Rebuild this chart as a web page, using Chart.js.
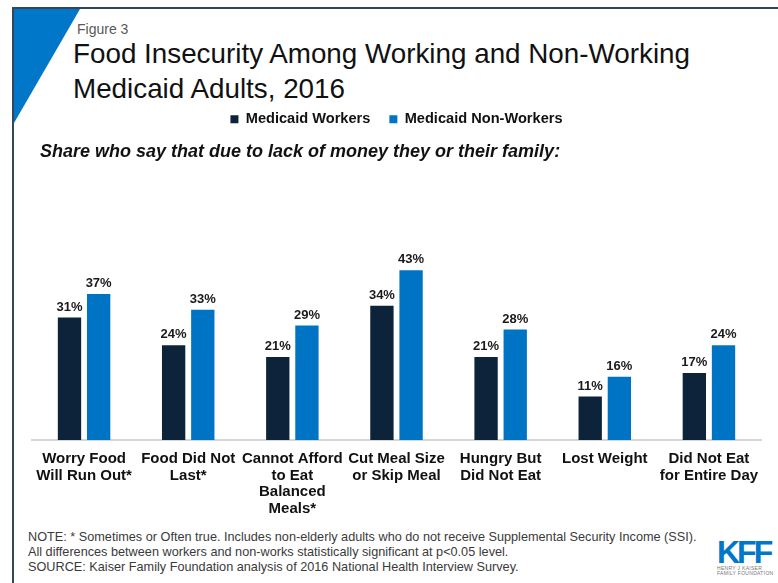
<!DOCTYPE html>
<html>
<head>
<meta charset="utf-8">
<script src="https://cdn.jsdelivr.net/npm/chart.js@4"></script>
<style>
  html, body { margin: 0; padding: 0; background: #fff; }
  body { width: 778px; height: 583px; position: relative; overflow: hidden; font-family: "Liberation Sans", Arial, sans-serif; }
  .frame-top { position: absolute; left: 12px; top: 7px; width: 766px; height: 2px; background: #33475b; }
  .frame-left { position: absolute; left: 12px; top: 7px; width: 2px; height: 576px; background: #33475b; }
  .corner { position: absolute; left: 14px; top: 9px; width: 66px; height: 114px; background: #0077c8; clip-path: polygon(0 0, 100% 0, 0 100%); }
  .fig { position: absolute; left: 77px; top: 21px; font-size: 14px; color: #595959; }
  .title { position: absolute; left: 73px; top: 36px; font-size: 27.8px; line-height: 35px; color: #111; }
  .sub { position: absolute; left: 40px; top: 141px; font-size: 18px; font-weight: bold; font-style: italic; color: #111; }
  .notes { position: absolute; left: 28px; top: 530px; font-size: 12.7px; line-height: 15px; color: #3a3a3a; white-space: nowrap; }
  .logo { position: absolute; left: 717px; top: 538px; width: 60px; }
  .logo .kff { font-size: 32px; font-weight: bold; color: #0077c8; letter-spacing: -3px; line-height: 28px; }
  .logo .small { font-size: 5px; line-height: 5px; color: #777; letter-spacing: 0.3px; white-space: nowrap; }
  #wrap { position: absolute; left: 12px; top: 93px; width: 766px; height: 427px; }
</style>
</head>
<body>
<div class="frame-top"></div>
<div class="frame-left"></div>
<div class="corner"></div>
<div class="fig">Figure 3</div>
<div class="title">Food Insecurity Among Working and Non-Working<br>Medicaid Adults, 2016</div>
<div id="wrap"><canvas id="food"></canvas></div>
<div class="sub">Share who say that due to lack of money they or their family:</div>
<div class="notes">NOTE: * Sometimes or Often true. Includes non-elderly adults who do not receive Supplemental Security Income (SSI).<br>All differences between workers and non-works statistically significant at p&lt;0.05 level.<br>SOURCE: Kaiser Family Foundation analysis of 2016 National Health Interview Survey.</div>
<div class="logo"><div class="kff">KFF</div><div class="small">HENRY J KAISER<br>FAMILY FOUNDATION</div></div>

<script>
// categories (multi-line tick labels)
var categories = [
    ['Worry Food', 'Will Run Out*'],
    ['Food Did Not', 'Last*'],
    ['Cannot Afford', 'to Eat', 'Balanced', 'Meals*'],
    ['Cut Meal Size', 'or Skip Meal'],
    ['Hungry But', 'Did Not Eat'],
    ['Lost Weight'],
    ['Did Not Eat', 'for Entire Day']
];

// percent of adults
var workers = [31, 24, 21, 34, 21, 11, 17];
var nonWorkers = [37, 33, 29, 43, 28, 16, 24];

var font = '"Liberation Sans", Arial, sans-serif';

// value labels above each bar
var barLabels = {
    id: 'barLabels',
    afterDatasetsDraw: function(chart) {
        var ctx = chart.ctx;
        ctx.save();
        ctx.font = 'bold 13px ' + font;
        ctx.fillStyle = '#1a1a1a';
        ctx.textAlign = 'center';
        ctx.textBaseline = 'bottom';
        chart.data.datasets.forEach(function(ds, i) {
            chart.getDatasetMeta(i).data.forEach(function(bar, j) {
                ctx.fillText(ds.data[j] + '%', bar.x, bar.y - 4);
            });
        });
        ctx.restore();
    }
};

// room between legend and bars
var legendGap = {
    id: 'legendGap',
    beforeInit: function(chart) {
        if (!chart.legend) return;
        var fit = chart.legend.fit;
        chart.legend.fit = function() {
            fit.bind(chart.legend)();
            this.height += 106;
        };
    }
};

var food = new Chart(document.getElementById('food'), {
    type: 'bar',
    data: {
        labels: categories,
        datasets: [{
            label: 'Medicaid Workers',
            data: workers,
            backgroundColor: '#0c2339'
        }, {
            label: 'Medicaid Non-Workers',
            data: nonWorkers,
            backgroundColor: '#0074c4'
        }]
    },
    options: {
        responsive: true,
        maintainAspectRatio: false,
        animation: false,
        categoryPercentage: 0.56,
        barPercentage: 0.8,
        layout: { padding: { left: 20, right: 17, top: 0, bottom: 0 } },
        plugins: {
            legend: {
                position: 'top',
                labels: {
                    boxWidth: 8,
                    boxHeight: 8,
                    padding: 19,
                    color: '#111',
                    font: { family: font, size: 14.6, weight: 'bold' }
                }
            },
            tooltip: { enabled: false }
        },
        scales: {
            x: {
                grid: { display: false },
                border: { display: true, color: '#d6d6d6', width: 2 },
                ticks: {
                    color: '#111',
                    padding: 3,
                    maxRotation: 0,
                    autoSkip: false,
                    font: { family: font, size: 15, weight: 'bold', lineHeight: 1.1 }
                }
            },
            y: {
                display: false,
                min: 0,
                max: 50
            }
        }
    },
    plugins: [barLabels, legendGap]
});
</script>
</body>
</html>
